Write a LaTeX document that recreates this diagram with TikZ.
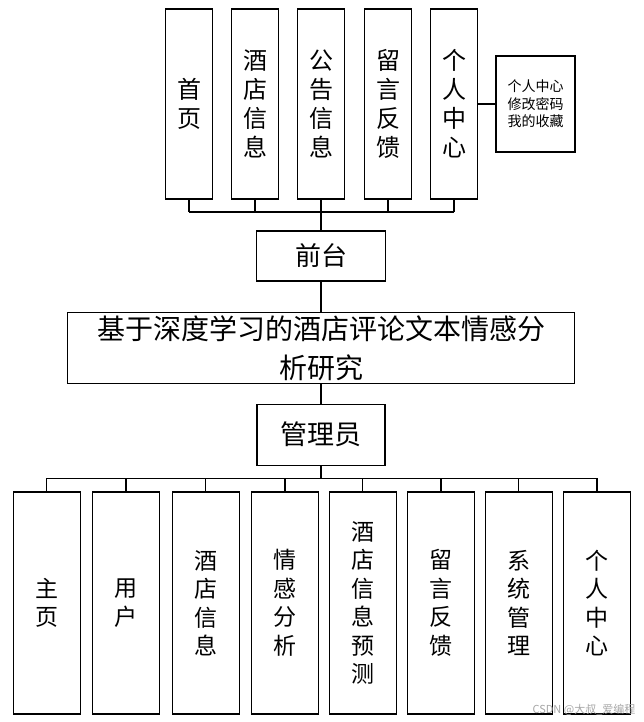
\documentclass[tikz,border=0pt]{standalone}
\usepackage{fontspec}
\setmainfont{Noto Sans CJK SC}
\usepackage{tikz}

\begin{document}
\begin{tikzpicture}[x=1pt, y=-1pt, line width=1.1pt,
    topbox/.style={draw, minimum width=47pt, minimum height=190pt, inner sep=0pt, align=center, font=\fontsize{24}{29}\selectfont},
    lowbox/.style={draw, minimum width=67pt, minimum height=222pt, inner sep=0pt, align=center, font=\fontsize{23}{28.5}\selectfont},
    notebox/.style={draw, minimum width=79pt, minimum height=96pt, inner sep=0pt, align=center, font=\fontsize{14}{17.5}\selectfont},
    midbox/.style={draw, inner sep=0pt, align=center}]
    \useasboundingbox (0, 0) rectangle (643, 722);

    % draw front end boxes
    \node[topbox] (home) at (189, 104) {首\\页};
    \node[topbox] (hotelinfo) at (255, 104) {酒\\店\\信\\息};
    \node[topbox] (notice) at (321, 104) {公\\告\\信\\息};
    \node[topbox] (feedback) at (388, 104) {留\\言\\反\\馈};
    \node[topbox] (personal) at (454, 104) {个\\人\\中\\心};
    \node[notebox] (personaldetail) at (535.5, 104) {个人中心\\修改密码\\我的收藏};
    \draw (personal.east) -- (personaldetail.west);

    % draw middle boxes
    \node[midbox, minimum width=129pt, minimum height=50pt, font=\fontsize{26}{26}\selectfont] (front) at (321, 256) {前台};
    \node[midbox, minimum width=507pt, minimum height=71pt, font=\fontsize{28}{39}\selectfont] (topic) at (321, 348) {基于深度学习的酒店评论文本情感分\\析研究};
    \node[midbox, minimum width=128pt, minimum height=61pt, font=\fontsize{27}{27}\selectfont] (admin) at (321, 434.7) {管理员};

    % draw front end bus
    \coordinate (frontbus) at (321, 212);
    \foreach \n in {home, hotelinfo, notice, feedback, personal}
        \draw (\n.south) -- (\n.south |- frontbus);
    \draw (home.south |- frontbus) -- (personal.south |- frontbus);
    \draw (frontbus) -- (front.north);
    \draw (front.south) -- (topic.north);
    \draw (topic.south) -- (admin.north);

    % draw admin boxes
    \node[lowbox] (mainpage) at (46.8, 603) {主\\页};
    \node[lowbox] (users) at (126, 603) {用\\户};
    \node[lowbox] (hotels) at (205.7, 603) {酒\\店\\信\\息};
    \node[lowbox] (sentiment) at (285, 603) {情\\感\\分\\析};
    \node[lowbox] (forecast) at (362.7, 603) {酒\\店\\信\\息\\预\\测};
    \node[lowbox] (messages) at (441, 603) {留\\言\\反\\馈};
    \node[lowbox] (system) at (518.8, 603) {系\\统\\管\\理};
    \node[lowbox] (profile) at (597, 603) {个\\人\\中\\心};

    % draw admin bus
    \coordinate (adminbus) at (321, 478.3);
    \draw (admin.south) -- (adminbus);
    \foreach \n in {mainpage, users, hotels, sentiment, forecast, messages, system, profile}
        \draw (\n.north) -- (\n.north |- adminbus);
    \draw (mainpage.north |- adminbus) -- (profile.north |- adminbus);

    % draw watermark
    \node[anchor=south east, inner sep=0pt, text=black!35, font=\fontsize{11}{11}\selectfont] (mark) at (636, 716) {CSDN @大叔\_爱编程};
\end{tikzpicture}
\end{document}
